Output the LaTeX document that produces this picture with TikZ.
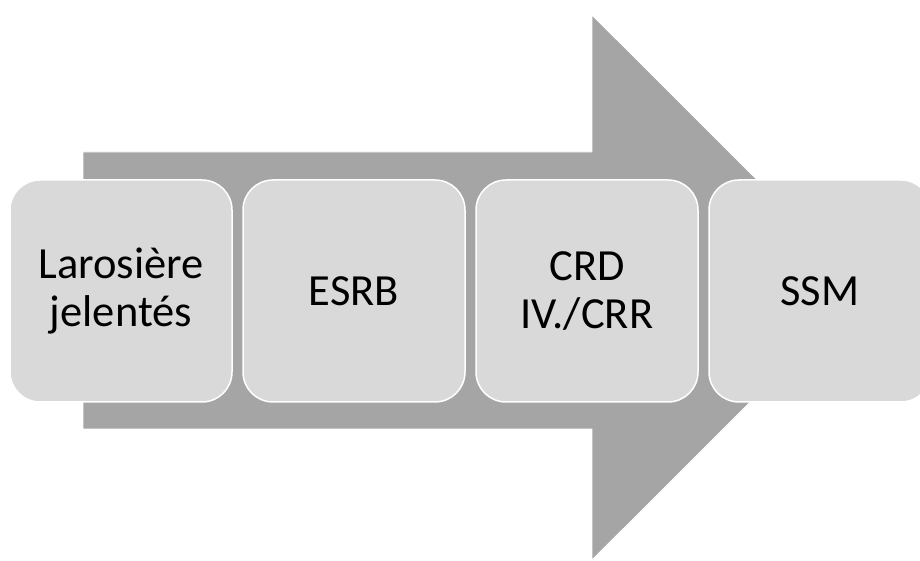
\documentclass[tikz,border=0pt]{standalone}
\usepackage{fontspec}
\setmainfont{Carlito}
\usetikzlibrary{positioning}

\definecolor{arrowgray}{HTML}{A5A5A5}
\definecolor{boxgray}{HTML}{D9D9D9}

\begin{document}
\begin{tikzpicture}[
			x=1pt, y=1pt,
			stage/.style={rectangle, rounded corners=30pt, draw=white, line width=1.5pt, fill=boxgray, minimum width=222pt, minimum height=222pt, outer sep=0pt, text centered, align=center, font=\fontsize{44.5}{48}\selectfont},
			bigarrow/.style={fill=arrowgray, draw=white, line width=0.8pt},
			node distance=11pt
		]
		\useasboundingbox (0,0) rectangle (920,561);
		\clip (0,0) rectangle (920,561);
		% Arrow
		\draw[bigarrow] (83,132) -- (83,409) -- (592,409) -- (592,546) -- (865,273.5) -- (592,1) -- (592,132) -- cycle;
		% Nodes
		\node[stage] (larosiere) at (121,270) {Larosière\\jelentés};
		\node[stage, right=of larosiere] (esrb) {ESRB};
		\node[stage, right=of esrb] (crd) {CRD\\IV./CRR};
		\node[stage, right=of crd] (ssm) {SSM};
	\end{tikzpicture}
\end{document}
